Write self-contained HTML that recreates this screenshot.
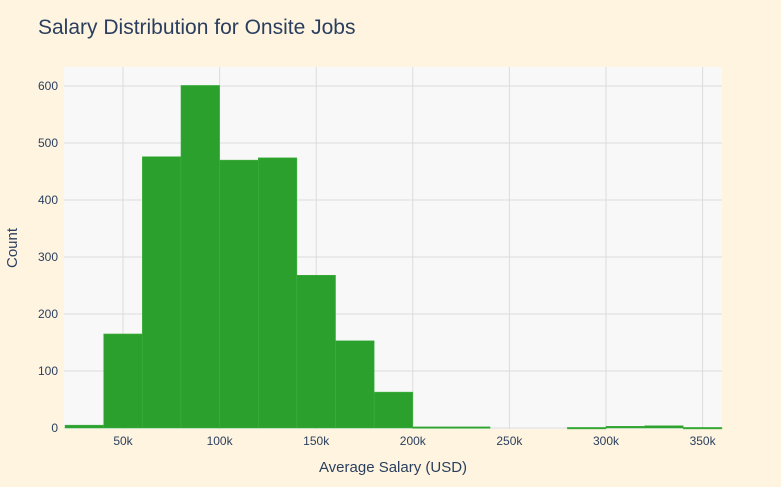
<!DOCTYPE html>
<html><head><meta charset="utf-8"><style>
body{margin:0;background:#fff4df;}
svg{display:block;font-family:"Liberation Sans",sans-serif;}
</style></head><body>
<svg id="chart" width="781" height="487">
<rect width="781" height="487" fill="#fff4df"/>
<text x="38" y="34" font-size="21" fill="#2a3f5f">Salary Distribution for Onsite Jobs</text>
<rect x="64" y="67" width="658" height="362" fill="#f8f8f8"/>
<g id="grid"></g><g id="bars"></g><g id="ticks"></g>
<text x="393" y="472" font-size="15" fill="#2a3f5f" text-anchor="middle">Average Salary (USD)</text>
<text transform="translate(17,248) rotate(-90)" font-size="15" fill="#2a3f5f" text-anchor="middle">Count</text>
</svg>
<script>
const binStarts=[20,40,60,80,100,120,140,160,180,200,220,240,260,280,300,320,340];
const counts=[5,165,476,601,470,474,268,153,63,2,2,0,0,1,3,4,1];
const xTicks=[50,100,150,200,250,300,350];
const xTickLabels=["50k","100k","150k","200k","250k","300k","350k"];
const yTicks=[0,100,200,300,400,500,600];
const binWidth=20;
const ns="http://www.w3.org/2000/svg";
const X=v=>123+(v-50)*1.932;
const Y=v=>428-v*0.57;
function mk(t,a,p){const e=document.createElementNS(ns,t);for(const k in a)e.setAttribute(k,a[k]);p.appendChild(e);return e;}
const grid=document.getElementById('grid'),bars=document.getElementById('bars'),ticks=document.getElementById('ticks');
yTicks.forEach(v=>{
  const l=mk('line',{x1:64,x2:722,y1:Y(v),y2:Y(v),stroke:'#dcdcdc','stroke-width':1},grid);
  
  
  const t=mk('text',{x:58,y:Y(v)+4,'font-size':12,fill:'#2a3f5f','text-anchor':'end'},ticks);
  t.textContent=v;
  
  
});
xTicks.forEach((v,i)=>{
  const l=mk('line',{x1:X(v),x2:X(v),y1:67,y2:429,stroke:'#dcdcdc','stroke-width':1},grid);
  
  
  const t=mk('text',{x:X(v),y:445,'font-size':12,fill:'#2a3f5f','text-anchor':'middle'},ticks);
  t.textContent=xTickLabels[i];
  
  
});
binStarts.forEach((s,i)=>{
  const x0=Math.max(64,X(s)),x1=Math.min(722,X(s+binWidth));
  const h=428-Y(counts[i]);
  if(counts[i]<=0)return;
  const r=mk('rect',{x:x0,y:Y(counts[i]),width:x1-x0,height:Math.max(h,1.5),fill:'#2ca02c',stroke:'#3fb03f','stroke-width':0.5},bars);
  
  
});
</script>
</body></html>
